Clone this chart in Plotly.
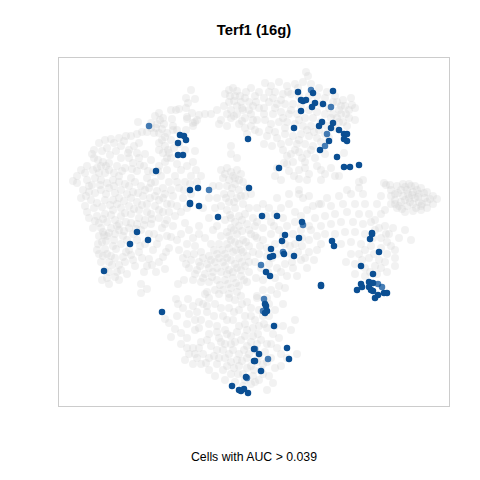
import plotly.graph_objects as go

# cells, x from the left of the frame, y from the top
cells_upper_left = [
    (14,123),(18,118),(22,112),(18,125),(26,115),(28,108),(34,112),(35,100),(35,92),(40,85),(46,82),(48,90),
    (52,81),(55,85),(60,80),(62,88),(67,78),(72,78),(78,76),(83,74),(70,92),(75,88),(80,85),(78,95),(70,100),
    (62,100),(58,108),(50,105),(42,108),(40,115),(46,115),(50,112),(55,115),(60,118),(66,110),(74,105),(80,100),
    (86,96),(92,102),(85,108),(78,113),(72,120),(66,126),(60,124),(54,122),(48,125),(42,122),(36,120),(28,122),
    (24,132),(30,128),(36,135),(42,132),(50,130),(56,135),(62,132),(70,128),(76,124),(44,104),(38,110),(47,108),
    (32,142),(38,145),(46,142),(54,142),(60,140),(68,136),(74,134),(82,128),(88,120),(94,114),(100,108),(106,104),
    (112,100),(118,106),(108,112),(102,118),(96,124),(90,130),(84,138),(78,144),(70,148),(62,150),(54,152),(46,156),
    (38,158),(30,160),(28,154),(40,165),(48,164),(56,162),(62,158),(72,156),(80,152),(88,146),(96,138),(104,130),
    (110,124),(116,118),(122,112),(128,108),(134,104),(106,136),(100,142),(108,146),(114,138),(120,130),(126,124),
    (132,118),(137,112),(142,118),(118,148),(110,154),(100,152),(92,156),(86,162),(78,166),(70,170),(60,172),
    (52,170),(44,174),(40,178),(48,178),(56,176),(64,178),(74,176),(82,172),(92,166),(100,160),(108,162),(116,158),
    (122,154),(128,150),(124,140),(132,136),(138,124),(45,177),(43,184),(39,186),(40,196),(42,204),(50,204),
    (60,207),(68,216),(60,222),(50,226),(43,222),(48,196),(54,188),(62,186),(70,192),(57,191),(67,194),(80,194),
    (90,201),(100,204),(106,211),(97,214),(85,214),(82,226),(82,235),(88,231),(108,178),(112,179),(98,186),
    (107,194),(94,192),(86,186),(78,182),(50,214),(58,214),(66,204),(74,202),(52,198),(46,212),(56,200),(104,199),
    (76,208),(88,208),(110,190),(30,134),(22,140),(26,148),(60,166),(67,164),(95,176),(103,170),
    (33,96),(39,102),(43,93),(51,97),(57,93),(65,83),(69,95),(73,111),(81,107),(89,113),(63,113),(55,128),(47,136),
    (41,127),(33,127),(27,138),(35,150),(43,149),(51,147),(58,146),(65,143),(72,140),(79,135),(86,132),(92,125),
    (99,113),(66,155),(75,151),(83,147),(91,140),(98,133),(52,157),(44,161),(36,163),(34,170),(42,170),(50,175),
    (58,168),(65,173),(72,165),(80,160),(88,154),(96,148),(104,140),(112,132),(118,124),(77,171),(85,167),(93,161),
    (47,183),(55,182),(64,199),(72,197),(83,200),(93,207),(46,191),(53,207),(62,212),(56,219),(48,220),(68,182),
    (81,188),(90,176),(100,180),(106,166),(114,168),(112,146),(104,154),(125,132),(131,126),(44,198),(38,192),
]

cells_top_middle = [
    (132,32),(127,40),(136,41),(129,45),(127,50),(117,52),(112,52),(120,51),(133,55),(128,59),(134,65),(128,61),
    (138,62),(146,56),(152,56),(140,57),(134,68),(136,64),(79,64),(100,55),(104,60),(96,58),(98,66),(105,66),
    (92,70),(108,75),(100,75),(95,75),(103,82),(88,74),(113,61),(114,68),(118,72),(100,85),(106,88),(114,72),
    (127,72),(110,95),(115,90),(120,86),(136,93),(126,92),(112,82),(172,96),(178,100),(100,92),(108,100),
    (166,36),(170,32),(174,30),(178,33),(176,38),(170,44),(165,48),(172,52),(178,48),(182,44),(186,40),(184,52),
    (178,56),(186,60),(192,56),(194,48),(196,38),(200,34),(192,30),(190,44),(200,50),(198,62),(192,68),(186,70),
    (180,66),(172,60),(162,62),(168,68),(205,40),(210,34),(205,56),(196,72),(188,76),(172,88),(160,66),(158,52),
    (103,71),(97,70),(101,62),(106,79),(92,65),(109,92),(104,95),(171,38),(175,43),(181,38),(183,50),(190,52),
    (175,58),(168,56),(197,44),(187,34),(194,62),(183,63),
]

cells_center_column = [
    (162,112),(168,110),(172,114),(178,112),(182,116),(176,120),(170,122),(164,120),(160,128),(168,128),(176,126),
    (184,124),(188,130),(180,132),(172,136),(165,136),(158,140),(170,144),(178,140),(186,138),(192,136),(184,146),
    (176,150),(168,152),(162,148),(190,150),(180,158),(172,160),(186,156),(166,162),(158,168),(172,170),(180,168),
    (188,166),(178,176),(170,178),(162,178),(154,172),(146,180),(152,186),(160,186),(168,186),(176,184),(184,182),
    (192,176),(194,160),(196,168),(198,180),(190,188),(182,192),(174,194),(166,196),(158,196),(150,198),(142,194),
    (136,188),(128,186),(120,192),(124,200),(132,202),(140,204),(148,206),(156,204),(164,204),(172,202),(180,200),
    (188,198),(194,194),(170,212),(178,210),(186,208),(162,214),(154,214),(146,216),(138,212),(130,210),(119,226),
    (125,222),(134,222),(142,224),(150,224),(158,222),(166,222),(174,220),(182,218),(190,214),(164,232),(172,230),
    (180,228),(188,224),(156,232),(148,234),(196,204),(130,172),(122,176),(118,182),(140,168),(134,180),(126,165),
    (150,160),(156,150),(144,150),(150,140),(154,128),(140,176),(128,196),
    (166,116),(174,118),(180,122),(173,130),(182,138),(175,144),(167,140),(171,157),(176,164),(183,162),(175,172),
    (168,174),(183,173),(190,172),(172,182),(180,186),(187,184),(170,190),(177,192),(163,192),(155,192),(184,194),
    (168,200),(176,206),(160,200),(152,202),(144,200),(183,204),(190,204),(166,208),(158,210),(174,214),(182,212),
    (168,216),(150,210),(141,208),(135,196),(127,206),(136,216),(144,220),(153,219),(161,227),(169,226),(177,225),
    (185,222),(170,236),(178,234),
]

cells_lower_blob = [
    (117,241),(119,246),(129,241),(134,248),(106,261),(110,265),(116,271),(112,279),(122,275),(128,266),(136,262),
    (130,256),(138,254),(144,246),(150,240),(156,246),(148,254),(142,262),(136,272),(128,280),(122,286),(134,290),
    (142,284),(150,276),(158,268),(164,258),(170,250),(176,242),(182,238),(188,244),(180,252),(174,262),(166,272),
    (160,280),(152,288),(144,296),(136,296),(128,290),(126,302),(134,306),(142,306),(150,300),(158,292),(166,286),
    (172,278),(180,268),(186,258),(192,250),(196,262),(188,272),(182,282),(174,292),(166,300),(158,306),(150,312),
    (156,318),(164,312),(172,304),(180,296),(188,288),(194,278),(200,268),(204,258),(208,270),(202,282),(196,292),
    (188,300),(180,308),(172,316),(166,322),(176,324),(184,316),(192,308),(200,298),(208,286),(214,276),(218,290),
    (212,300),(220,280),(224,268),(232,272),(236,262),(222,296),(216,310),(210,318),(222,308),(200,322),(192,326),
    (184,328),(195,312),(150,266),(118,258),(146,236),(160,236),(198,240),(210,246),(216,252),(224,246),(208,332),
    (228,300),(214,325),(238,296),(124,250),(140,270),(170,240),(204,306),
    (140,244),(148,248),(162,250),(155,258),(168,262),(175,254),(183,246),(192,258),(200,252),(178,274),(186,266),
    (172,286),(164,292),(155,298),(147,305),(138,300),(130,296),(162,284),(170,296),(178,302),(185,292),(192,284),
    (199,276),(205,266),(206,294),(198,304),(190,296),(183,303),(175,310),(168,308),(160,300),(179,316),(186,322),
    (194,318),(202,312),(208,304),(204,316),(196,324),(188,310),(176,284),(168,276),(158,274),(148,282),(140,290),
    (212,286),(216,268),(210,258),(198,286),(194,270),(186,278),
]

cells_center_right = [
    (198,150),(204,146),(210,150),(216,156),(222,150),(230,146),(236,154),(224,160),(212,164),(204,170),(198,164),
    (196,178),(204,182),(212,176),(220,172),(228,168),(236,164),(242,158),(248,152),(254,148),(260,146),(242,172),
    (234,176),(226,186),(218,196),(208,190),(200,196),(202,210),(210,206),(218,210),(226,206),(234,210),(242,202),
    (250,194),(258,192),(250,182),(258,178),(262,186),(248,210),(238,218),(228,218),(216,220),(204,222),(232,196),
    (243,188),(204,232),(212,232),(220,228),(226,230),(198,238),(236,186),(244,140),(240,132),(230,136),(218,140),
    (207,158),(215,168),(201,188),(208,198),(216,186),(224,178),(231,188),(239,194),(246,200),(255,202),(213,200),
    (222,214),(233,204),(243,180),(252,172),(209,214),(197,220),(218,236),(208,240),
]

cells_top_right = [
    (247,14),(249,18),(206,25),(212,28),(220,24),(228,28),(236,26),(244,24),(252,26),(260,30),(268,34),(276,38),
    (284,42),(292,40),(296,50),(290,52),(282,48),(274,44),(266,40),(258,38),(250,38),(240,38),(232,36),(224,36),
    (216,34),(210,44),(218,46),(226,46),(234,46),(242,48),(250,52),(258,54),(266,56),(274,56),(282,56),(290,60),
    (296,62),(288,68),(280,64),(272,60),(262,64),(254,60),(246,60),(238,56),(230,56),(222,54),(214,56),(205,50),
    (206,62),(212,66),(220,64),(228,64),(236,66),(244,68),(252,68),(260,72),(268,68),(276,70),(258,80),(250,78),
    (242,76),(234,78),(226,76),(216,74),(208,78),(200,74),(205,86),(213,88),(222,86),(230,84),(238,86),(246,86),
    (254,88),(262,84),(270,80),(248,96),(240,94),(232,96),(224,92),(234,104),(246,104),(256,100),(266,96),(285,95),
    (218,110),(225,105),(230,113),(240,112),(246,110),(250,116),(262,112),(266,116),(272,110),(276,118),(280,118),
    (262,122),(248,122),(240,121),(304,122),(300,124),(228,106),(235,118),(258,108),(216,118),(222,122),
    (278,44),(286,48),(280,52),(287,56),(293,47),(278,60),(284,64),(270,50),(262,46),(254,46),(229,34),(222,42),
    (214,40),(239,30),(232,52),(224,60),(216,50),(210,72),(218,80),(226,70),(240,62),(248,72),(255,74),(266,76),
    (236,92),(243,100),(252,92),(228,98),(240,82),
]

cells_far_right = [
    (325,125),(327,127),(331,127),(332,132),(338,128),(344,126),(350,126),(356,128),(362,130),(368,134),(374,138),
    (378,141),(374,146),(368,150),(362,152),(354,153),(346,154),(338,150),(332,146),(336,136),(342,132),(348,132),
    (354,134),(360,136),(366,140),(360,144),(354,146),(348,148),(342,144),(336,142),(344,138),(350,140),(356,140),
    (340,148),(362,148),(352,128),(346,142),(368,144),(332,138),(358,132),(339,135),(346,129),(353,137),(359,139),
    (365,135),(371,141),(363,146),(357,150),(351,144),(343,151),(336,146),(349,136),
]

cells_right_middle = [
    (288,132),(300,130),(240,136),(250,138),(268,140),(280,138),(292,136),(304,136),(262,146),(272,148),(284,146),
    (296,146),(306,146),(318,146),(322,138),(310,156),(300,156),(288,154),(276,156),(266,158),(256,160),(250,168),
    (262,168),(272,166),(282,164),(294,164),(304,166),(316,162),(322,156),(326,152),(316,172),(306,176),(296,174),
    (286,174),(276,176),(266,176),(282,186),(292,184),(302,186),(312,188),(322,180),(330,176),(334,170),(326,168),
    (322,190),(332,188),(328,196),(320,202),(310,200),(300,196),(292,196),(287,204),(296,206),(306,210),(316,208),
    (326,204),(336,200),(336,208),(328,214),(318,216),(306,218),(296,216),(352,182),(346,172),(340,180),
    (312,164),(320,170),(327,176),(314,180),(306,192),(315,196),(322,210),(311,214),(303,202),(328,184),(336,192),
]

# marked cells, solid blue
marked_cells = [
    (121,77),(125,78),(127,82),(119,85),(119,97),(124,97),(97,113),(131,132),(139,130),(131,145),(131,146),(140,148),
    (159,159),(189,81),(190,130),(78,174),(239,34),(254,35),(274,33),(242,42),(244,43),(247,42),(256,45),(253,49),
    (264,46),(242,53),(263,64),(260,68),(274,65),(272,70),(235,70),(280,72),(285,76),(288,76),(285,81),(288,83),
    (270,83),(261,92),(278,99),(220,110),(285,109),(291,109),(300,107),(203,158),(218,158),(243,164),(313,175),
    (89,182),(71,186),(45,213),(103,254),(173,328),(180,332),(182,333),(185,331),(189,335),(187,319),(195,291),
    (195,303),(226,177),(240,180),(223,183),(273,183),(311,181),(313,176),(275,188),(212,191),(225,196),(211,199),
    (214,198),(235,198),(320,194),(302,208),(207,214),(211,218),(314,216),(262,227),(262,228),(302,226),(310,224),
    (314,225),(303,229),(298,232),(310,229),(312,232),(314,233),(319,237),(316,240),(325,235),(328,235),(206,246),
    (207,248),(208,253),(206,255),(215,268),(228,290),(200,296),(196,303),(230,301),(202,313),
]

# marked cells that show up paler
pale_marked_cells = [
    (90,68),(150,132),(252,32),(272,49),(268,76),(266,88),(244,167),(188,320),(224,194),(202,207),(319,226),(323,229),
    (205,241),(204,253),(196,291),(209,301),
]

grey_cells = (cells_upper_left + cells_top_middle + cells_center_column + cells_lower_blob
              + cells_center_right + cells_top_right + cells_far_right + cells_right_middle)

fig = go.Figure()
fig.add_trace(go.Scatter(
    x=[c[0] for c in grey_cells],
    y=[c[1] for c in grey_cells],
    mode="markers",
    marker=dict(color="#cfcfcf", size=8, opacity=0.28),
    hoverinfo="skip",
))
fig.add_trace(go.Scatter(
    x=[c[0] for c in pale_marked_cells],
    y=[c[1] for c in pale_marked_cells],
    mode="markers",
    marker=dict(color="#08519c", size=6.5, opacity=0.75),
))
fig.add_trace(go.Scatter(
    x=[c[0] for c in marked_cells],
    y=[c[1] for c in marked_cells],
    mode="markers",
    marker=dict(color="#0b4f93", size=6.5),
))

# the page body sits 8px in, so margins are 8 smaller on top and left
fig.update_layout(
    width=480,
    height=480,
    autosize=False,
    showlegend=False,
    paper_bgcolor="white",
    plot_bgcolor="white",
    margin=dict(l=51, r=39, t=50, b=82),
    font=dict(family="Liberation Sans, Arial, sans-serif", color="black"),
    title=dict(
        text="<b>Terf1 (16g)</b>",
        x=246 / 480,
        xanchor="center",
        y=1 - 22 / 480,
        yanchor="middle",
        font=dict(size=14.8),
    ),
)
fig.update_xaxes(
    range=[0, 390], showgrid=False, zeroline=False, showticklabels=False, ticks="",
    showline=True, mirror=True, linecolor="#cccccc", linewidth=1,
    title=dict(text="Cells with AUC > 0.039", font=dict(size=12.3), standoff=46),
    automargin=False,
)
fig.update_yaxes(
    range=[348, 0], showgrid=False, zeroline=False, showticklabels=False, ticks="",
    showline=True, mirror=True, linecolor="#cccccc", linewidth=1,
)

fig.write_html("out.html", config=dict(displayModeBar=False))
